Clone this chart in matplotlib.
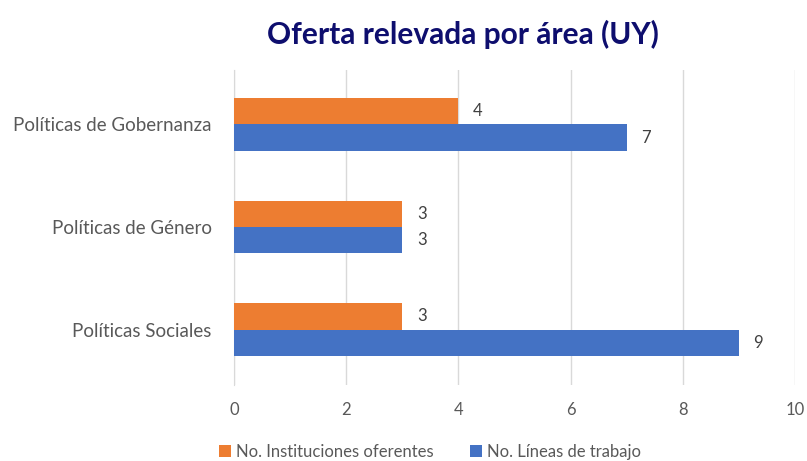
import matplotlib.pyplot as plt
import numpy as np

categories = ["Políticas Sociales", "Políticas de Género", "Políticas de Gobernanza"]
instituciones = [3, 3, 4]
lineas = [9, 3, 7]
series_names = ["No. Instituciones oferentes", "No. Líneas de trabajo"]
colors = ["#ED7D31", "#4472C4"]

plt.rcParams['font.family'] = ['Lato', 'DejaVu Sans']

fig = plt.figure(figsize=(8.07, 4.61), dpi=100)
ax = fig.add_axes([0.29, 0.165, 0.695, 0.683])

y = np.arange(len(categories))
h = 0.255
b1 = ax.barh(y + h / 2, instituciones, height=h, color=colors[0], label=series_names[0], zorder=3)
b2 = ax.barh(y - h / 2, lineas, height=h, color=colors[1], label=series_names[1], zorder=3)

for bars, vals in [(b1, instituciones), (b2, lineas)]:
    for bar, v in zip(bars, vals):
        ax.text(bar.get_width() + 0.26, bar.get_y() + bar.get_height() / 2, str(v),
                va='center', ha='left', fontsize=12, color='#404040')

ax.set_xlim(0, 10)
ax.set_ylim(-0.54, 2.53)
ax.set_xticks([0, 2, 4, 6, 8, 10])
ax.set_yticks(y)
ax.set_yticklabels(categories, fontsize=13.5)
ax.grid(axis='x', color='#D9D9D9', linewidth=1, zorder=0)
for s in ['top', 'right', 'bottom']:
    ax.spines[s].set_visible(False)
ax.spines['left'].set_color('#D9D9D9')
ax.tick_params(axis='both', length=0, labelcolor='#595959')
ax.tick_params(axis='x', pad=12, labelsize=12)
ax.tick_params(axis='y', pad=16)

fig.text(0.574, 0.925, "Oferta relevada por área (UY)", ha='center', va='center',
         fontsize=21.5, fontweight='bold', color='#0E0E6E')

fig.legend(handles=[b1, b2], labels=series_names, loc='center', bbox_to_anchor=(0.533, 0.02),
           ncol=2, frameon=False, fontsize=12, handlelength=0.7, handleheight=0.7,
           columnspacing=2.2, handletextpad=0.3, labelcolor='#595959')

fig.savefig("out.png", dpi=100)
